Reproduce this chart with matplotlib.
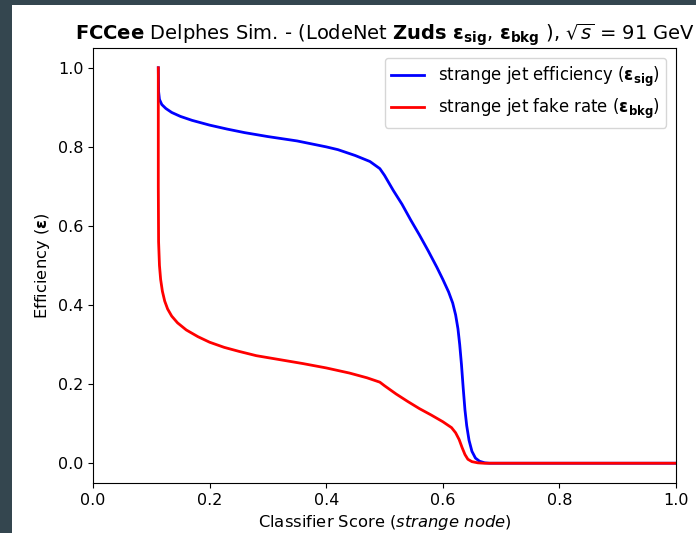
import matplotlib
matplotlib.use('Agg')
import matplotlib.pyplot as plt
from matplotlib.patches import Rectangle

# classifier score (strange node) and the efficiencies
score_sig = [0.112, 0.1125, 0.114, 0.118, 0.125, 0.135, 0.15, 0.17, 0.2, 0.23, 0.26,
             0.3, 0.35, 0.4, 0.42, 0.45, 0.475, 0.492, 0.5, 0.515, 0.53, 0.545, 0.56,
             0.575, 0.59, 0.6, 0.61, 0.617, 0.622, 0.626, 0.629, 0.632, 0.635, 0.638,
             0.641, 0.645, 0.65, 0.656, 0.663, 0.672, 0.68, 1.0]
eff_sig = [1.0, 0.94, 0.92, 0.907, 0.897, 0.887, 0.877, 0.867, 0.855, 0.845, 0.836,
           0.826, 0.815, 0.8, 0.793, 0.778, 0.763, 0.745, 0.728, 0.69, 0.655, 0.615, 0.577,
           0.537, 0.495, 0.465, 0.433, 0.405, 0.375, 0.34, 0.3, 0.25, 0.19, 0.135,
           0.095, 0.058, 0.03, 0.013, 0.005, 0.001, 0.0, 0.0]

score_bkg = [0.112, 0.112, 0.1125, 0.114, 0.116, 0.119, 0.123, 0.128, 0.135, 0.145, 0.16,
             0.18, 0.2, 0.225, 0.25, 0.28, 0.32, 0.36, 0.4, 0.44, 0.47, 0.492, 0.5,
             0.52, 0.54, 0.56, 0.58, 0.6, 0.615, 0.622, 0.628, 0.633, 0.638, 0.643,
             0.65, 0.66, 0.67, 1.0]
eff_bkg = [1.0, 0.7, 0.56, 0.5, 0.465, 0.435, 0.41, 0.39, 0.372, 0.355, 0.337,
           0.32, 0.306, 0.293, 0.283, 0.272, 0.262, 0.252, 0.241, 0.228, 0.216, 0.205, 0.196,
           0.175, 0.156, 0.138, 0.122, 0.105, 0.09, 0.077, 0.06, 0.04, 0.022, 0.01,
           0.004, 0.001, 0.0, 0.0]

ticks = [0.0, 0.2, 0.4, 0.6, 0.8, 1.0]

fig = plt.figure(figsize=(6.96, 5.33), dpi=100)
fig.patch.set_facecolor('white')
# dark screenshot border on the left and top
fig.patches.append(Rectangle((0, 0), 12 / 696, 1, transform=fig.transFigure,
                             facecolor='#34464f', edgecolor='none', zorder=-1))
fig.patches.append(Rectangle((0, 1 - 5 / 533), 1, 5 / 533, transform=fig.transFigure,
                             facecolor='#34464f', edgecolor='none', zorder=-1))

ax = fig.add_axes([93 / 696, 1 - 483 / 533, 583 / 696, 435 / 533])
ax.plot(score_sig, eff_sig, color='blue', lw=2,
        label=r'strange jet efficiency ($\mathbf{\varepsilon_{sig}}$)')
ax.plot(score_bkg, eff_bkg, color='red', lw=2,
        label=r'strange jet fake rate ($\mathbf{\varepsilon_{bkg}}$)')

ax.set_xlim(0, 1)
ax.set_ylim(-0.05, 1.05)
ax.set_xticks(ticks)
ax.set_yticks(ticks)
ax.tick_params(labelsize=11.5)
ax.set_xlabel(r'Classifier Score ($\it{strange\ node}$)', fontsize=11.8)
ax.set_ylabel(r'Efficiency ($\mathbf{\varepsilon}$)', fontsize=11.8)
ax.set_title(r'$\bf{FCCee}$ Delphes Sim. - (LodeNet $\bf{Zuds}$ $\mathbf{\varepsilon_{sig}}$, '
             r'$\mathbf{\varepsilon_{bkg}}$ ), $\sqrt{s}$ = 91 GeV', fontsize=14)
ax.legend(loc='upper right', fontsize=11.9, borderaxespad=0.6)

fig.savefig('out.png', dpi=100)
